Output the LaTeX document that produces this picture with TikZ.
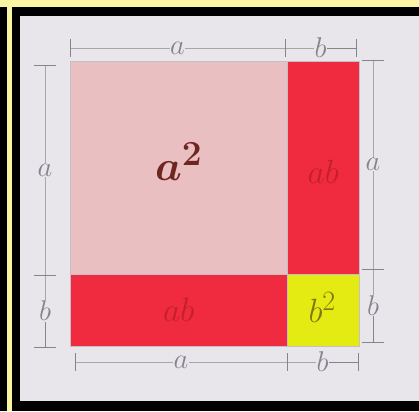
\documentclass[tikz,border=0pt]{standalone}
\usetikzlibrary{positioning}
\definecolor{cframe}{HTML}{FAF5A3}
\definecolor{cpaper}{HTML}{E8E6EB}
\definecolor{cpink}{HTML}{EABFC2}
\definecolor{cred}{HTML}{F02B3F}
\definecolor{cyellow}{HTML}{E3EB12}
\definecolor{cpencil}{HTML}{86848B}
\definecolor{cbrown}{HTML}{6E2620}
\definecolor{cdarkred}{HTML}{C41F2E}
\definecolor{colive}{HTML}{857512}
\tikzset{
  tile/.style={fill=#1, draw=cpencil!50, line width=0.5pt, anchor=north west, inner sep=0pt},
  dimline/.style={draw=cpencil, line width=0.9pt},
  dimlab/.style={fill=cpaper, text=cpencil, inner sep=0.5pt, font=\Huge, scale=1.15},
  inklab/.style={text=#1, font=\Huge},
}
\begin{document}
\begin{tikzpicture}[x=1pt, y=-1pt]
  \useasboundingbox (0,0) rectangle (419,411);
  % photo frame
  \fill[cframe] (0,0) rectangle (419,411);
  \fill[black] (0,7) rectangle (7,411);
  \fill[black] (12,7) rectangle (419,411);
  \fill[cpaper] (20,16) rectangle (419,401);
  % the four pieces
  \node[tile=cpink, minimum width=217pt, minimum height=213pt] (sqa) at (70,61) {};
  \node[tile=cred, minimum width=72pt, minimum height=213pt] (rectr) at (287,61) {};
  \node[tile=cred, minimum width=217pt, minimum height=72pt] (rectb) at (70,274) {};
  \node[tile=cyellow, minimum width=72pt, minimum height=72pt] (sqb) at (287,274) {};
  \node[inklab=cbrown, font=\Huge\boldmath, scale=1.7] (laba) at ([yshift=6pt]sqa.center) {$a^2$};
  \node[inklab=cdarkred, scale=1.35] (labr) at ([yshift=-4pt]rectr.center) {$ab$};
  \node[inklab=cdarkred, scale=1.35] (labb) at (rectb.center) {$ab$};
  \node[inklab=colive, scale=1.35] (labsq) at ([xshift=-1pt, yshift=3pt]sqb.center) {$b^2$};
  % measures
  \coordinate (t0) at (70,48);  \coordinate (t1) at (285,48);  \coordinate (t2) at (356,48);
  \coordinate (l0) at (45,65);  \coordinate (l1) at (45,275);  \coordinate (l2) at (45,347);
  \coordinate (r0) at (373,60); \coordinate (r1) at (373,269); \coordinate (r2) at (373,342);
  \coordinate (b0) at (75,362); \coordinate (b1) at (287,362); \coordinate (b2) at (358,362);
  \draw[dimline] (t0) -- node[dimlab] {$a$} (t1) -- node[dimlab] {$b$} (t2);
  \draw[dimline] (l0) -- node[dimlab] {$a$} (l1) -- node[dimlab] {$b$} (l2);
  \draw[dimline] (r0) -- node[dimlab] {$a$} (r1) -- node[dimlab] {$b$} (r2);
  \draw[dimline] (b0) -- node[dimlab] {$a$} (b1) -- node[dimlab] {$b$} (b2);
  \foreach \c in {t0,t1,t2,b0,b1,b2} \draw[dimline] ([yshift=-9pt]\c) -- ([yshift=9pt]\c);
  \foreach \c in {l0,l1,l2,r0,r1,r2} \draw[dimline] ([xshift=-11pt]\c) -- ([xshift=11pt]\c);
\end{tikzpicture}
\end{document}
